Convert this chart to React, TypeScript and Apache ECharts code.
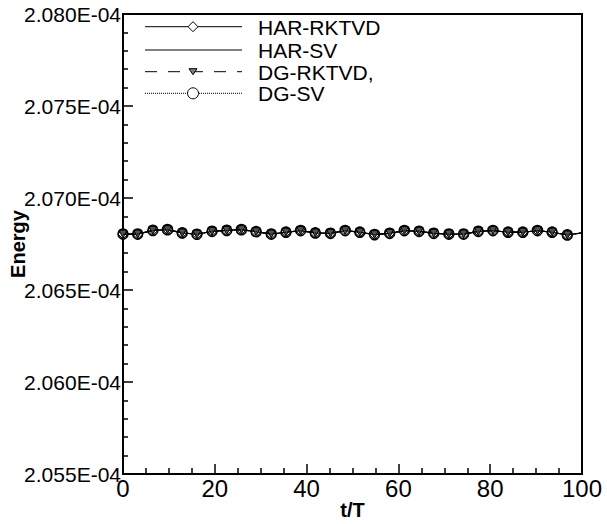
import React, { useEffect, useRef } from "react";
import * as echarts from "echarts";

// t/T positions of the plotted points (markers), last one is the line end
const tValues = [
  0, 3.2, 6.5, 9.7, 12.9, 16.1, 19.4, 22.6, 25.8, 29.0, 32.3, 35.5, 38.7, 41.9, 45.2, 48.4,
  51.6, 54.8, 58.1, 61.3, 64.5, 67.7, 71.0, 74.2, 77.4, 80.6, 83.9, 87.1, 90.3, 93.5, 96.8, 100,
];

// Energy values in units of 1E-04 (all four curves overlap in the picture)
const harRktvd = [
  2.06804, 2.06804, 2.06824, 2.06828, 2.0681, 2.06803, 2.06819, 2.06824, 2.06828, 2.06817,
  2.06804, 2.06814, 2.06823, 2.0681, 2.06808, 2.06823, 2.06814, 2.06801, 2.06808, 2.06823,
  2.06819, 2.06808, 2.06804, 2.06804, 2.06819, 2.06823, 2.06814, 2.06814, 2.06823, 2.06814,
  2.06799, 2.0681,
];
const harSv = [
  2.06804, 2.06804, 2.06824, 2.06828, 2.0681, 2.06803, 2.06819, 2.06824, 2.06828, 2.06817,
  2.06804, 2.06814, 2.06823, 2.0681, 2.06808, 2.06823, 2.06814, 2.06801, 2.06808, 2.06823,
  2.06819, 2.06808, 2.06804, 2.06804, 2.06819, 2.06823, 2.06814, 2.06814, 2.06823, 2.06814,
  2.06799, 2.0681,
];
const dgRktvd = [
  2.06804, 2.06804, 2.06824, 2.06828, 2.0681, 2.06803, 2.06819, 2.06824, 2.06828, 2.06817,
  2.06804, 2.06814, 2.06823, 2.0681, 2.06808, 2.06823, 2.06814, 2.06801, 2.06808, 2.06823,
  2.06819, 2.06808, 2.06804, 2.06804, 2.06819, 2.06823, 2.06814, 2.06814, 2.06823, 2.06814,
  2.06799, 2.0681,
];
const dgSv = [
  2.06804, 2.06804, 2.06824, 2.06828, 2.0681, 2.06803, 2.06819, 2.06824, 2.06828, 2.06817,
  2.06804, 2.06814, 2.06823, 2.0681, 2.06808, 2.06823, 2.06814, 2.06801, 2.06808, 2.06823,
  2.06819, 2.06808, 2.06804, 2.06804, 2.06819, 2.06823, 2.06814, 2.06814, 2.06823, 2.06814,
  2.06799, 2.0681,
];

const seriesNames = ["HAR-RKTVD", "HAR-SV", "DG-RKTVD,", "DG-SV"];
const yMin = 2.055;
const yMax = 2.08;
const yStep = 0.005;
const xMin = 0;
const xMax = 100;
const xStep = 20;

const FONT = "'Liberation Sans', Arial, Helvetica, sans-serif";

function pairs(vals: number[]) {
  return vals.map((v, i) => {
    const item: any = { value: [tValues[i], v] };
    if (i === vals.length - 1) item.symbol = "none";
    return item;
  });
}

export default function App() {
  const ref = useRef<HTMLDivElement>(null);

  useEffect(() => {
    if (!ref.current) return;
    const chart = echarts.init(ref.current, null, { renderer: "svg" });

    const lx0 = 145;
    const lx1 = 242;
    const sx = 193;
    const rows = [26.7, 50, 71.7, 93.3];
    const textX = 258;
    const legendText = (i: number) => ({
      type: "text",
      left: textX,
      top: rows[i] - 10,
      style: {
        text: seriesNames[i],
        font: `21px ${FONT}`,
        fill: "#000",
      },
    });

    const graphic: any[] = [
      { type: "line", shape: { x1: lx0, y1: rows[0], x2: lx1, y2: rows[0] }, style: { stroke: "#000", lineWidth: 1 } },
      {
        type: "polygon",
        shape: { points: [[sx, rows[0] - 5], [sx + 5, rows[0]], [sx, rows[0] + 5], [sx - 5, rows[0]]] },
        style: { fill: "#fff", stroke: "#000", lineWidth: 1 },
      },
      legendText(0),
      { type: "line", shape: { x1: lx0, y1: rows[1], x2: lx1, y2: rows[1] }, style: { stroke: "#000", lineWidth: 1 } },
      legendText(1),
      {
        type: "line",
        shape: { x1: lx0, y1: rows[2], x2: lx1, y2: rows[2] },
        style: { stroke: "#000", lineWidth: 1, lineDash: [12, 11] },
      },
      {
        type: "polygon",
        shape: { points: [[sx - 4, rows[2] - 3], [sx + 4, rows[2] - 3], [sx, rows[2] + 3]] },
        style: { fill: "#808080", stroke: "#000", lineWidth: 1 },
      },
      legendText(2),
      {
        type: "line",
        shape: { x1: lx0, y1: rows[3], x2: lx1, y2: rows[3] },
        style: { stroke: "#000", lineWidth: 1, lineDash: [1, 1] },
      },
      {
        type: "circle",
        shape: { cx: sx, cy: rows[3], r: 5.5 },
        style: { fill: "#fff", stroke: "#000", lineWidth: 1 },
      },
      legendText(3),
    ];

    chart.setOption({
      animation: false,
      backgroundColor: "#fff",
      grid: {
        left: 123,
        top: 14,
        right: 25,
        bottom: 50,
        containLabel: false,
        outerBoundsMode: "none",
        show: true,
        borderColor: "#000",
        borderWidth: 2,
        backgroundColor: "transparent",
      },
      xAxis: {
        type: "value",
        min: xMin,
        max: xMax,
        interval: xStep,
        name: "t/T",
        nameLocation: "middle",
        nameMoveOverlap: false,
        nameGap: 26,
        nameTextStyle: { fontFamily: FONT, fontSize: 20, fontWeight: "bold", color: "#000" },
        axisLine: { show: true, lineStyle: { color: "#000", width: 2 } },
        axisTick: { show: true, inside: true, length: 10, lineStyle: { color: "#000", width: 1.5 } },
        minorTick: { show: true, splitNumber: 4, length: 6, lineStyle: { color: "#000", width: 1.5 } },
        splitLine: { show: false },
        minorSplitLine: { show: false },
        axisLabel: { fontFamily: FONT, fontSize: 24, color: "#000", margin: 2 },
      },
      yAxis: {
        type: "value",
        min: yMin,
        max: yMax,
        interval: yStep,
        name: "Energy",
        nameLocation: "middle",
        nameMoveOverlap: false,
        nameGap: 95,
        nameTextStyle: { fontFamily: FONT, fontSize: 20, fontWeight: "bold", color: "#000" },
        axisLine: { show: true, lineStyle: { color: "#000", width: 2 } },
        axisTick: { show: true, inside: true, length: 10, lineStyle: { color: "#000", width: 1.5 } },
        minorTick: { show: true, splitNumber: 5, length: 5, lineStyle: { color: "#000", width: 1.5 } },
        splitLine: { show: false },
        minorSplitLine: { show: false },
        axisLabel: {
          fontFamily: FONT,
          fontSize: 21,
          color: "#000",
          margin: 2,
          formatter: (v: number) => `${v.toFixed(3)}E-04`,
        },
      },
      graphic,
      series: [
        {
          name: seriesNames[0],
          type: "line",
          data: pairs(harRktvd),
          symbol: "diamond",
          symbolSize: 10,
          showAllSymbol: true,
          lineStyle: { color: "#000", width: 1.2 },
          itemStyle: { color: "#fff", borderColor: "#000", borderWidth: 1 },
          z: 2,
        },
        {
          name: seriesNames[1],
          type: "line",
          data: pairs(harSv),
          symbol: "none",
          lineStyle: { color: "#000", width: 1.2 },
          z: 3,
        },
        {
          name: seriesNames[2],
          type: "line",
          data: pairs(dgRktvd),
          symbol: "triangle",
          symbolRotate: 180,
          symbolSize: 8,
          showAllSymbol: true,
          lineStyle: { color: "#000", width: 1.2, type: [12, 11] },
          itemStyle: { color: "#505050", borderColor: "#000", borderWidth: 1 },
          z: 4,
        },
        {
          name: seriesNames[3],
          type: "line",
          data: pairs(dgSv),
          symbol: "circle",
          symbolSize: 10,
          showAllSymbol: true,
          lineStyle: { color: "#000", width: 1, type: [1, 1] },
          itemStyle: { color: "rgba(0,0,0,0)", borderColor: "#000", borderWidth: 1.6 },
          z: 5,
        },
      ],
    });

    return () => {
      chart.dispose();
    };
  }, []);

  return (
    <div
      ref={ref}
      style={{ position: "fixed", left: 0, top: 0, width: 607, height: 524, background: "#fff" }}
    />
  );
}
